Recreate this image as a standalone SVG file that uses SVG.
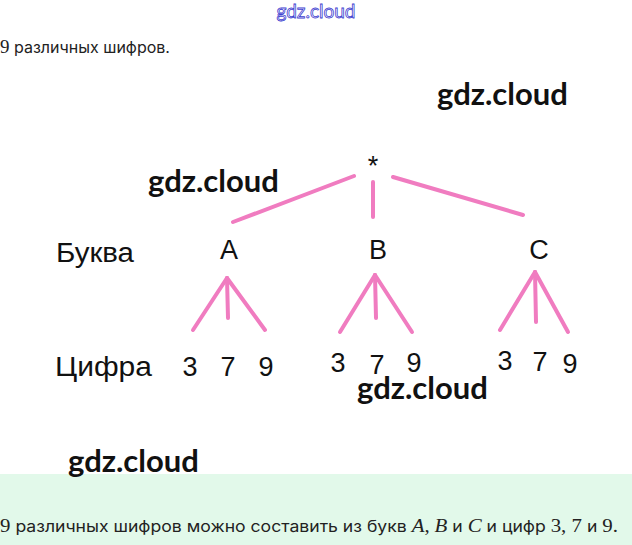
<svg xmlns="http://www.w3.org/2000/svg" width="632" height="545" viewBox="0 0 632 545">
<style>
.lbl{font-family:"Liberation Sans",Arial,sans-serif;font-size:27px;fill:#111}
.num{font-family:"Liberation Sans",Arial,sans-serif;font-size:27px;fill:#111}
.wm{font-family:Lato,"Open Sans",sans-serif;font-weight:bold;font-size:31px;fill:#111}
.txt{font-family:Inter,"Noto Sans",sans-serif;font-size:16px;fill:#222}
.math{font-family:"Liberation Serif","Times New Roman",serif;font-size:19px;fill:#222}
.mi{font-style:italic}
.edge{stroke:#f07cc0;stroke-width:4;stroke-linecap:round;fill:none}
</style>
<rect width="632" height="545" fill="#fff"/>
<rect x="0" y="474" width="632" height="71" fill="#e2f9ea"/>
<text x="316" y="18" text-anchor="middle" font-family="Lato,'Open Sans',sans-serif" font-size="19" fill="#fff" stroke="#4040d0" stroke-width="0.8">gdz.cloud</text>
<text x="0" y="53" class="txt"><tspan class="math">9</tspan> различных шифров.</text>
<g id="connectors">
<line class="edge" x1="354" y1="176" x2="233" y2="222"/>
<line class="edge" x1="373" y1="182" x2="373" y2="217"/>
<line class="edge" x1="393" y1="177" x2="523" y2="215"/>
<line class="edge" x1="227" y1="278" x2="193" y2="330"/>
<line class="edge" x1="227" y1="278" x2="228" y2="318"/>
<line class="edge" x1="227" y1="278" x2="265" y2="330"/>
<line class="edge" x1="375" y1="275" x2="340" y2="332"/>
<line class="edge" x1="375" y1="275" x2="376" y2="318"/>
<line class="edge" x1="375" y1="275" x2="412" y2="332"/>
<line class="edge" x1="535" y1="272" x2="500" y2="330"/>
<line class="edge" x1="535" y1="272" x2="536" y2="322"/>
<line class="edge" x1="535" y1="272" x2="568" y2="332"/>
</g>
<g id="root"><text x="373" y="175" text-anchor="middle" class="lbl" font-size="21">*</text></g>
<g id="label-bukva"><text x="56" y="262" class="lbl" textLength="78" lengthAdjust="spacingAndGlyphs">Буква</text></g>
<g id="label-cifra"><text x="55" y="376" class="lbl" textLength="97" lengthAdjust="spacingAndGlyphs">Цифра</text></g>
<g id="node-A"><text x="229" y="259" text-anchor="middle" class="lbl">A</text></g>
<g id="node-B"><text x="378" y="259" text-anchor="middle" class="lbl">B</text></g>
<g id="node-C"><text x="539" y="259" text-anchor="middle" class="lbl">C</text></g>
<g id="digits-A">
<text x="190" y="376" text-anchor="middle" class="num">3</text>
<text x="228" y="376" text-anchor="middle" class="num">7</text>
<text x="266" y="376" text-anchor="middle" class="num">9</text>
</g>
<g id="digits-B">
<text x="338" y="372" text-anchor="middle" class="num">3</text>
<text x="377" y="374" text-anchor="middle" class="num">7</text>
<text x="414" y="372" text-anchor="middle" class="num">9</text>
</g>
<g id="digits-C">
<text x="505" y="370" text-anchor="middle" class="num">3</text>
<text x="540" y="371" text-anchor="middle" class="num">7</text>
<text x="570" y="373" text-anchor="middle" class="num">9</text>
</g>
<text x="437" y="105" class="wm">gdz.cloud</text>
<text x="148" y="192" class="wm">gdz.cloud</text>
<text x="357" y="399" class="wm">gdz.cloud</text>
<text x="68" y="472" class="wm">gdz.cloud</text>
<text x="0" y="532" class="txt" textLength="618" lengthAdjust="spacingAndGlyphs"><tspan class="math">9</tspan> различных шифров можно составить из букв <tspan class="math mi">A</tspan><tspan class="math">,</tspan> <tspan class="math mi">B</tspan> и <tspan class="math mi">C</tspan> и цифр <tspan class="math">3, 7</tspan> и <tspan class="math">9.</tspan></text>
</svg>
